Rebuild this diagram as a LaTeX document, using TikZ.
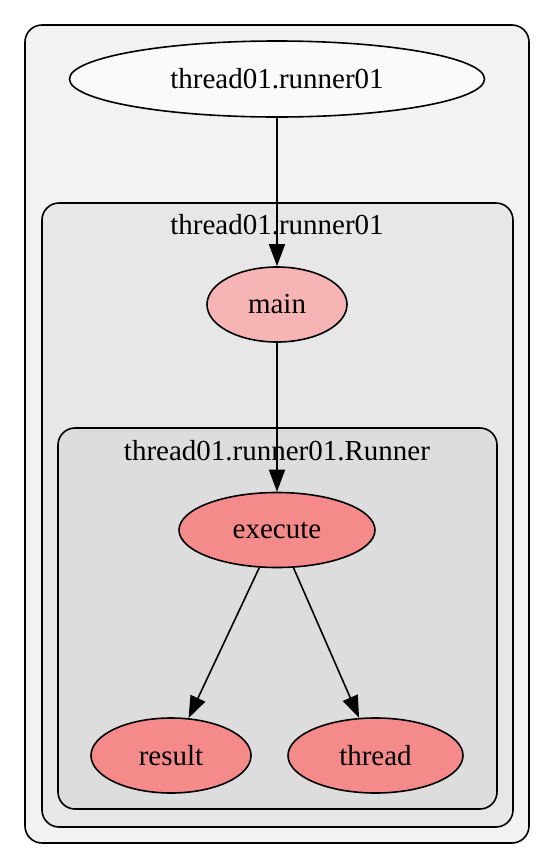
\documentclass[tikz,border=0pt]{standalone}
\usepackage{fontspec}
\setmainfont{Liberation Serif}
\usetikzlibrary{shapes.geometric,arrows.meta}
\definecolor{outerfill}{HTML}{F2F2F2}
\definecolor{midfill}{HTML}{E7E7E7}
\definecolor{innerfill}{HTML}{DDDDDD}
\definecolor{topfill}{HTML}{FAFAFA}
\definecolor{mainfill}{HTML}{F7B4B4}
\definecolor{redfill}{HTML}{F48A8A}
\tikzset{
  cluster/.style={draw=black, line width=1.6pt, rounded corners=17pt},
  gnode/.style={ellipse, draw=black, line width=1.6pt, inner sep=0pt, font=\fontsize{29}{34}\selectfont},
  clabel/.style={inner sep=0pt, font=\fontsize{29}{34}\selectfont},
  arr/.style={draw=black, line width=1.6pt, -{Triangle[length=22pt,width=16pt]}}
}
\begin{document}
\begin{tikzpicture}[x=1pt,y=-1pt]
\useasboundingbox (0,0) rectangle (555,868);
\draw[cluster, fill=outerfill] (25,25) rectangle (529,843);
\draw[cluster, fill=midfill] (42,203) rectangle (513,827);
\draw[cluster, fill=innerfill] (58,428) rectangle (497,809);
\node[clabel] (lmid) at (277,225) {thread01.runner01};
\node[clabel] (linner) at (277,451) {thread01.runner01.Runner};
\node[gnode, fill=topfill, minimum width=415pt, minimum height=76pt] (top) at (277,79) {thread01.runner01};
\node[gnode, fill=mainfill, minimum width=140pt, minimum height=75pt] (main) at (277,304.5) {main};
\node[gnode, fill=redfill, minimum width=196pt, minimum height=75pt] (execute) at (277,530) {execute};
\node[gnode, fill=redfill, minimum width=160pt, minimum height=75pt] (result) at (171,755.5) {result};
\node[gnode, fill=redfill, minimum width=175pt, minimum height=75pt] (thread) at (375.5,755.5) {thread};
\draw[arr] (top) -- (main);
\draw[arr] (main) -- (execute);
\draw[arr] (execute) -- (result);
\draw[arr] (execute) -- (thread);
\end{tikzpicture}
\end{document}
